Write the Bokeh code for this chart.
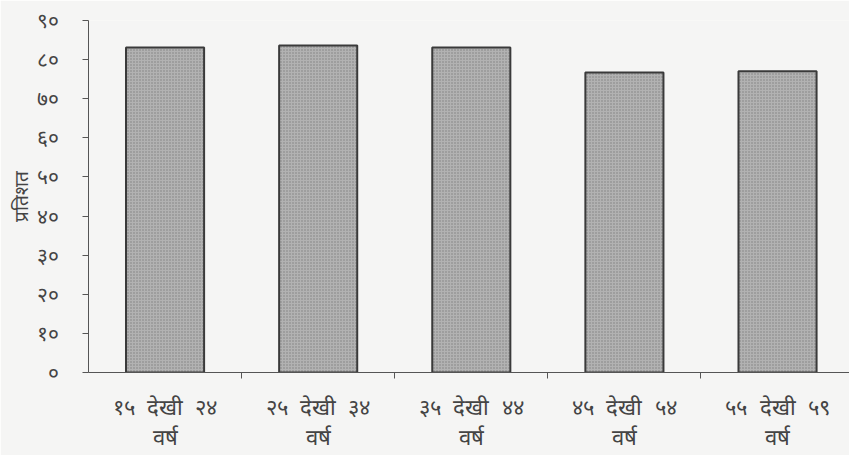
from bokeh.plotting import figure
from bokeh.models import Range1d, FixedTicker, ColumnDataSource
from bokeh.embed import file_html
from bokeh.resources import INLINE

sp = "\u00a0\u00a0"
categories = ["१५" + sp + "देखी" + sp + "२४\nवर्ष", "२५" + sp + "देखी" + sp + "३४\nवर्ष",
              "३५" + sp + "देखी" + sp + "४४\nवर्ष", "४५" + sp + "देखी" + sp + "५४\nवर्ष",
              "५५" + sp + "देखी" + sp + "५९\nवर्ष"]
values = [83.1, 83.6, 83.1, 76.7, 77.0]
y_ticks = [0, 10, 20, 30, 40, 50, 60, 70, 80, 90]
y_tick_labels = ["०", "१०", "२०", "३०", "४०", "५०", "६०", "७०", "८०", "९०"]
y_label = "प्रतिशत"

xs = [i + 1 for i in range(len(categories))]
src = ColumnDataSource(dict(x=xs, top=values))

bg = "#f5f5f4"
p = figure(width=849, height=455, output_backend="svg", toolbar_location=None,
           x_range=Range1d(0.5, 5.47), y_range=Range1d(0, 90),
           min_border_left=88, min_border_right=0, min_border_top=20,
           min_border_bottom=83, background_fill_color=bg, border_fill_color=bg)
p.outline_line_color = None
p.xgrid.visible = False
p.ygrid.visible = False

p.vbar(x="x", top="top", width=0.51, bottom=0, source=src,
       fill_color="#b2b2b2", hatch_pattern=".", hatch_color="#808080",
       hatch_scale=3, hatch_weight=1,
       line_color="#3a3a3a", line_width=2)

text_color = "#444444"
p.xaxis.ticker = FixedTicker(ticks=xs, minor_ticks=[i + 0.5 for i in xs])
p.xaxis.major_label_overrides = {x: c for x, c in zip(xs, categories)}
p.xaxis.major_tick_out = 0
p.xaxis.major_tick_in = 0
p.xaxis.minor_tick_out = 6
p.xaxis.minor_tick_in = 0
p.xaxis.major_label_standoff = 16
p.xaxis.major_label_text_font_size = "22px"
p.xaxis.major_label_text_color = text_color
p.xaxis.axis_line_color = "#555555"
p.xaxis.minor_tick_line_color = "#555555"

p.yaxis.ticker = FixedTicker(ticks=y_ticks)
p.yaxis.major_label_overrides = {t: l for t, l in zip(y_ticks, y_tick_labels)}
p.yaxis.minor_tick_line_color = None
p.yaxis.major_tick_out = 6
p.yaxis.major_tick_in = 0
p.yaxis.major_label_standoff = 24
p.yaxis.major_label_text_font_size = "21px"
p.yaxis.major_label_text_color = text_color
p.yaxis.axis_line_color = "#555555"
p.yaxis.major_tick_line_color = "#555555"
p.yaxis.axis_label = y_label
p.yaxis.axis_label_text_font_size = "19px"
p.yaxis.axis_label_text_font_style = "normal"
p.yaxis.axis_label_text_color = text_color
p.yaxis.axis_label_standoff = 2

open("out.html", "w").write(file_html(p, INLINE))
